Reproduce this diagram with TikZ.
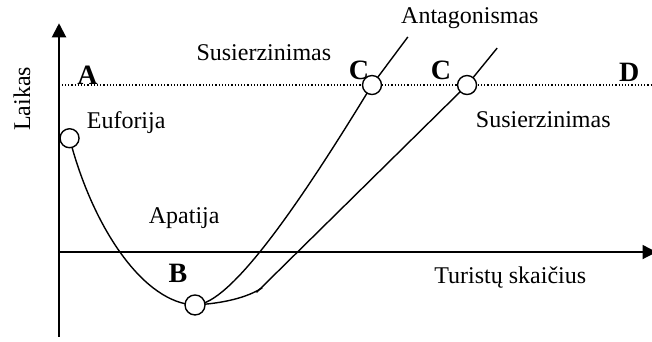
\documentclass[tikz,border=0pt]{standalone}
\usepackage{fontspec}
\setmainfont{Liberation Serif}
\usetikzlibrary{arrows.meta}
\begin{document}
\begin{tikzpicture}[
    axis/.style={-{Triangle[length=7pt,width=7pt]}},
    curve/.style={line width=0.7pt},
    ring/.style={circle,draw,line width=0.7pt,fill=white,inner sep=0pt,minimum size=9.5pt},
    lbl/.style={font=\fontsize{12}{14}\selectfont},
    letter/.style={font=\fontsize{14}{16}\selectfont\bfseries}]
    \useasboundingbox (-1.037,-1.564) rectangle (10.42,4.429);
    % axes
    \coordinate (o) at (0,0);
    \coordinate (ytop) at (0,4.02);\coordinate (ybot) at (0,-1.49);
    \coordinate (xend) at (10.5,0);
    \draw [axis,line width=1pt] (ybot) -- (ytop);
    \draw [axis,line width=0.8pt] (o) -- (xend);
    % level
    \coordinate (dl) at (0.05,2.935);\coordinate (dr) at (10.42,2.935);
    \draw [densely dotted,line width=0.6pt] (dl) -- (dr);
    % points
    \coordinate (e) at (0.185,2.0);
    \coordinate (b) at (2.39,-0.93);
    \coordinate (c1) at (5.50,2.935);
    \coordinate (c2) at (7.17,2.935);
    \coordinate (j) at (3.57,-0.63);
    \coordinate (j0) at (3.47,-0.71);
    \coordinate (t1) at (6.13,3.78);
    \coordinate (t2) at (7.70,3.585);
    % curves
    \draw [curve] (e) .. controls (0.6,0.4) and (1.5,-0.9) .. (b);
    \draw [curve] (b) .. controls (3.0,-0.93) and (4.2,0.8) .. (c1) -- (t1);
    \draw [curve] (b) .. controls (2.9,-0.9) and (3.3,-0.8) .. (j);
    \draw [curve] (j0) -- (c2) -- (t2);
    \node [ring] (ne) at (e) {};
    \node [ring,minimum size=10pt] (nb) at (b) {};
    \node [ring] (nc1) at (c1) {};
    \node [ring] (nc2) at (c2) {};
    % labels
    \node [letter] (la) at (0.50,3.11) {A};
    \node [letter] (lb) at (2.09,-0.37) {B};
    \node [letter] (lc1) at (5.27,3.20) {C};
    \node [letter] (lc2) at (6.71,3.20) {C};
    \node [letter] (ld) at (10.02,3.15) {D};
    \node [lbl,rotate=90] (laikas) at (-0.65,2.69) {Laikas};
    \node [lbl] (eu) at (1.18,2.28) {Euforija};
    \node [lbl] (s1) at (3.60,3.51) {Susierzinimas};
    \node [lbl] (an) at (7.22,4.11) {Antagonismas};
    \node [lbl] (s2) at (8.51,2.32) {Susierzinimas};
    \node [lbl] (ap) at (2.20,0.60) {Apatija};
    \node [lbl] (ts) at (7.93,-0.44) {Turistų skaičius};
\end{tikzpicture}
\end{document}
